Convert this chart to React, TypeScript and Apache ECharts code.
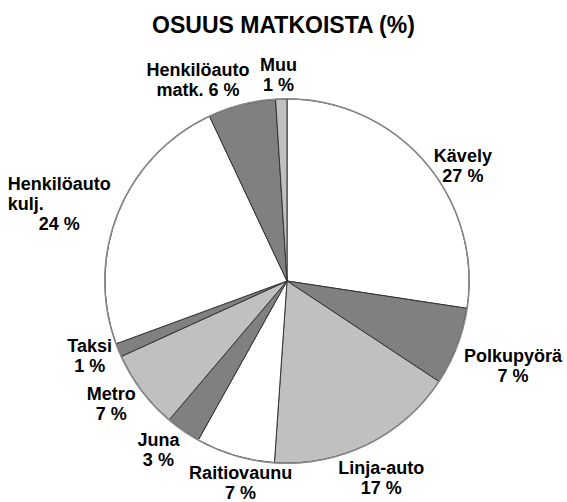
import React, { useEffect, useRef } from "react";
import * as echarts from "echarts";

// ---- data ----
const categories = [
  "Kävely",
  "Polkupyörä",
  "Linja-auto",
  "Raitiovaunu",
  "Juna",
  "Metro",
  "Taksi",
  "Henkilöauto kulj.",
  "Henkilöauto matk.",
  "Muu",
];
// slice sizes
const shares = [27.4, 6.9, 16.8, 7.0, 3.1, 7.0, 1.2, 23.6, 6.0, 1.0];
// printed percentages
const shareLabels = [27, 7, 17, 7, 3, 7, 1, 24, 6, 1];

// ---- styles / layout ----
const sliceColors = [
  "#ffffff",
  "#808080",
  "#c0c0c0",
  "#ffffff",
  "#808080",
  "#c0c0c0",
  "#808080",
  "#ffffff",
  "#808080",
  "#c0c0c0",
];
const CX = 287;
const CY = 281;
const R = 182;
const GAP = 3;
const FONT = "Liberation Sans";
const LABEL_SIZE = 18;
const labelNudge: [number, number][] = [
  [9, 28],
  [4, 0],
  [-4, -2],
  [16, -8],
  [-7, -6],
  [-3, -8],
  [0, -6],
  [-2, 16],
  [-35, 9],
  [-2, -1],
];

function labelText(i: number): string {
  const name = categories[i];
  const pct = shareLabels[i] + " %";
  if (name === "Henkilöauto kulj.") return "Henkilöauto\n{l|kulj.}\n" + pct;
  if (name === "Henkilöauto matk.") return "Henkilöauto\nmatk. " + pct;
  return name + "\n" + pct;
}

export default function App() {
  const ref = useRef<HTMLDivElement>(null);
  useEffect(() => {
    if (!ref.current) return;
    const chart = echarts.init(ref.current, undefined, { renderer: "svg" });
    const total = shares.reduce((a, b) => a + b, 0);
    chart.setOption({
      animation: false,
      backgroundColor: "#ffffff",
      title: {
        text: "OSUUS MATKOISTA (%)",
        left: "center",
        top: 8,
        textStyle: {
          fontFamily: FONT,
          fontWeight: "bold",
          fontSize: 23,
          color: "#000",
        },
      },
      series: [
        {
          type: "pie",
          center: [CX, CY],
          radius: [0, R],
          startAngle: 90,
          clockwise: true,
          avoidLabelOverlap: false,
          silent: true,
          data: categories.map((c, i) => ({
            name: c,
            value: shares[i],
            itemStyle: { color: sliceColors[i] },
          })),
          itemStyle: { borderColor: "#333", borderWidth: 1 },
          label: {
            show: true,
            position: "outside",
            formatter: (p: any) => labelText(p.dataIndex),
            fontFamily: FONT,
            fontWeight: "bold",
            fontSize: LABEL_SIZE,
            lineHeight: 20,
            color: "#000",
            align: "center",
            rich: {
              l: {
                align: "left",
                fontFamily: FONT,
                fontWeight: "bold",
                fontSize: LABEL_SIZE,
                lineHeight: 20,
                color: "#000",
              },
            },
          },
          labelLine: { show: false },
          labelLayout: (params: any) => {
            const i = params.dataIndex;
            let before = 0;
            for (let k = 0; k < i; k++) before += shares[k];
            const mid = ((before + shares[i] / 2) / total) * Math.PI * 2;
            const s = Math.sin(mid);
            const c = Math.cos(mid);
            const w = params.labelRect.width;
            const h = params.labelRect.height;
            const d = R + GAP + (w / 2) * Math.abs(s) + (h / 2) * Math.abs(c);
            return {
              x: CX + d * s + labelNudge[i][0],
              y: CY - d * c + labelNudge[i][1],
              align: "center",
              verticalAlign: "middle",
            };
          },
        },
        {
          type: "pie",
          center: [CX, CY],
          radius: [R - 0.5, R + 1],
          silent: true,
          label: { show: false },
          labelLine: { show: false },
          itemStyle: { color: "#8a8a8a", borderWidth: 0 },
          data: [{ name: "edge", value: total }],
        },
      ],
    });
    return () => chart.dispose();
  }, []);
  return (
    <div
      ref={ref}
      style={{ position: "absolute", left: 0, top: 0, width: 567, height: 502 }}
    />
  );
}
